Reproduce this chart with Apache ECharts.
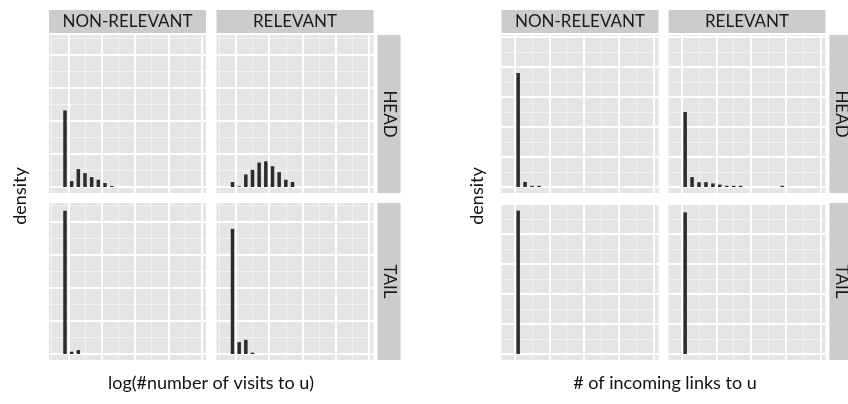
<!DOCTYPE html>
<html lang="en">
<head>
<meta charset="UTF-8">
<title>density facets</title>
<script src="https://cdn.jsdelivr.net/npm/echarts@6/dist/echarts.min.js"></script>
<style>
    html, body { margin: 0; padding: 0; background: #fff; }
    #main { width: 848px; height: 404px; }
</style>
</head>
<body>
<div id="main"></div>
<script>
    // bin centres, in major-grid units
    var visitBins = [-0.1, 0.1, 0.3, 0.5, 0.7, 0.9, 1.1, 1.3, 1.5, 1.7];
    var visitsHeadNonRel = [2.32, 0.18, 0.54, 0.42, 0.30, 0.22, 0.12, 0.03, 0, 0];
    var visitsHeadRel = [0.15, 0.02, 0.38, 0.52, 0.74, 0.78, 0.63, 0.45, 0.22, 0.15];
    var visitsTailNonRel = [4.34, 0.07, 0.12, 0, 0, 0, 0, 0, 0, 0];
    var visitsTailRel = [3.79, 0.36, 0.43, 0.04, 0, 0, 0, 0, 0, 0];

    var linkBins = [0.1, 0.3, 0.5, 0.7, 0.9, 1.1, 1.3, 1.5, 1.7, 1.9, 2.1, 2.3, 2.5, 2.7, 2.9];
    var linksHeadNonRel = [3.8, 0.17, 0.04, 0.04, 0, 0, 0, 0, 0, 0, 0, 0, 0, 0, 0];
    var linksHeadRel = [2.5, 0.33, 0.16, 0.16, 0.12, 0.08, 0.04, 0.04, 0.04, 0, 0, 0, 0, 0, 0.04];
    var linksTailNonRel = [4.78, 0, 0, 0, 0, 0, 0, 0, 0, 0, 0, 0, 0, 0, 0];
    var linksTailRel = [4.72, 0, 0, 0, 0, 0, 0, 0, 0, 0, 0, 0, 0, 0, 0];

    var colNames = ['NON-RELEVANT', 'RELEVANT'];
    var rowNames = ['HEAD', 'TAIL'];
    var xTitles = ['log(#number of visits to u)', '# of incoming links to u'];

    var FONT = 'Lato';

    // layout of the two plots
    var plots = [
        { bins: visitBins, data: [[visitsHeadNonRel, visitsHeadRel], [visitsTailNonRel, visitsTailRel]],
          left: [49, 216.5], xMin: -0.58, xPx: 33.33, yPx: 33, titleX: 20 },
        { bins: linkBins, data: [[linksHeadNonRel, linksHeadRel], [linksTailNonRel, linksTailRel]],
          left: [501.5, 668.5], xMin: -0.38, xPx: 34.67, yPx: 30, titleX: 477 }
    ];
    var panelW = 157;
    var rowTop = [35, 203];
    var rowH = [158, 157];
    var zeroPad = 6;

    var grids = [], xAxes = [], yAxes = [], series = [], graphics = [];

    function splitStyle(minor) {
        return {
            show: true, showMinLine: false, showMaxLine: false,
            lineStyle: minor ? { color: '#f2f2f2', width: 1 } : { color: '#ffffff', width: 2 }
        };
    }

    plots.forEach(function (p) {
        for (var r = 0; r < 2; r++) {
            for (var c = 0; c < 2; c++) {
                var gi = grids.length;
                grids.push({
                    left: p.left[c], top: rowTop[r], width: panelW, height: rowH[r],
                    show: true, backgroundColor: '#e5e5e5', borderWidth: 0
                });
                var xr = { min: p.xMin, max: p.xMin + panelW / p.xPx };
                var yr = { min: -zeroPad / p.yPx, max: (rowH[r] - zeroPad) / p.yPx };
                [0.5, 1].forEach(function (step) {
                    var minor = step < 1;
                    xAxes.push({
                        gridIndex: gi, type: 'value', position: minor ? 'top' : 'bottom',
                        min: xr.min, max: xr.max, minInterval: step, maxInterval: step,
                        axisLine: { show: false }, axisTick: { show: false }, axisLabel: { show: false },
                        splitLine: splitStyle(minor), z: minor ? 0 : 1
                    });
                    yAxes.push({
                        gridIndex: gi, type: 'value', position: minor ? 'right' : 'left',
                        min: yr.min, max: yr.max, minInterval: step, maxInterval: step,
                        axisLine: { show: false }, axisTick: { show: false }, axisLabel: { show: false },
                        splitLine: splitStyle(minor), z: minor ? 0 : 1
                    });
                });
                var vals = p.data[r][c];
                var pts = [];
                p.bins.forEach(function (b, i) {
                    if (vals[i] > 0) pts.push([b, vals[i]]);
                });
                series.push({
                    type: 'bar', xAxisIndex: xAxes.length - 1, yAxisIndex: yAxes.length - 1,
                    data: pts, barWidth: 3.5, itemStyle: { color: '#2b2b2b' },
                    silent: true, animation: false, z: 3
                });
            }
        }

        // column strips
        for (var c = 0; c < 2; c++) {
            graphics.push({ type: 'rect', shape: { x: p.left[c], y: 10, width: panelW, height: 23 },
                style: { fill: '#cccccc' } });
            graphics.push({ type: 'text', x: p.left[c] + panelW / 2, y: 22,
                style: { text: colNames[c], font: '17px ' + FONT, fill: '#1a1a1a',
                    textAlign: 'center', textVerticalAlign: 'middle' } });
        }
        // row strips
        var sx = p.left[1] + panelW + 4;
        for (var r = 0; r < 2; r++) {
            graphics.push({ type: 'rect', shape: { x: sx, y: rowTop[r], width: 23, height: rowH[r] },
                style: { fill: '#cccccc' } });
            graphics.push({ type: 'text', x: sx + 11.5, y: rowTop[r] + rowH[r] / 2, rotation: -Math.PI / 2,
                style: { text: rowNames[r], font: '17px ' + FONT, fill: '#1a1a1a',
                    textAlign: 'center', textVerticalAlign: 'middle' } });
        }
        // axis titles
        graphics.push({ type: 'text', x: p.titleX, y: 196, rotation: Math.PI / 2,
            style: { text: 'density', font: '18px ' + FONT, fill: '#111',
                textAlign: 'center', textVerticalAlign: 'middle' } });
    });

    graphics.push({ type: 'text', x: 211, y: 383,
        style: { text: xTitles[0], font: '18px ' + FONT, fill: '#111', textAlign: 'center', textVerticalAlign: 'middle' } });
    graphics.push({ type: 'text', x: 665, y: 383,
        style: { text: xTitles[1], font: '18px ' + FONT, fill: '#111', textAlign: 'center', textVerticalAlign: 'middle' } });

    var chart = echarts.init(document.getElementById('main'));
    chart.setOption({
        animation: false,
        backgroundColor: '#ffffff',
        grid: grids,
        xAxis: xAxes,
        yAxis: yAxes,
        series: series,
        graphic: graphics
    });
</script>
</body>
</html>
